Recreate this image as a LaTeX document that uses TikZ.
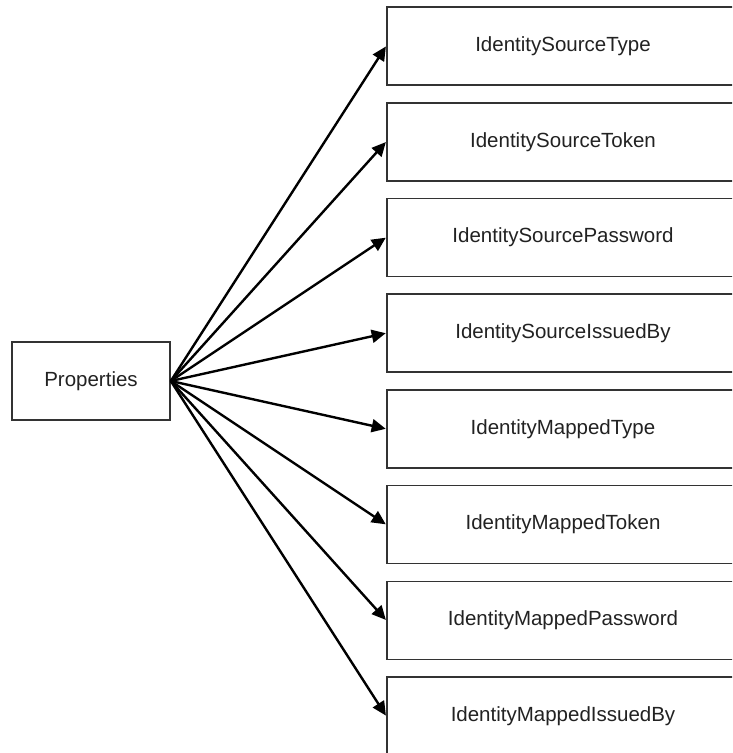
\documentclass[tikz,border=0pt]{standalone}
\usepackage{fontspec}
\setmainfont{Liberation Sans}
\usetikzlibrary{arrows.meta}
\definecolor{ink}{HTML}{222222}
\definecolor{edge}{HTML}{333333}
\tikzset{
  blk/.style={draw=edge, fill=white, line width=1.6pt, align=center, text=ink,
              font=\fontsize{20.5}{24}\selectfont, minimum height=78pt, minimum width=352pt, inner sep=0pt},
  src/.style={blk, minimum width=158pt},
  arr/.style={-{Triangle[length=14pt, width=13pt]}, line width=2.4pt, draw=black, shorten >=0.5pt},
}
\begin{document}
\begin{tikzpicture}[x=1pt, y=-1pt]
    \useasboundingbox (0,0) rectangle (732,753);
    \clip (0,0) rectangle (732,753);
    % source
    \node[src] (prop) at (91, 381) {Properties};
    % identity source
    \node[blk] (srctype) at (563, 46)    {IdentitySourceType};
    \node[blk] (srctok)  at (563, 141.7) {IdentitySourceToken};
    \node[blk] (srcpw)   at (563, 237.4) {IdentitySourcePassword};
    \node[blk] (srciss)  at (563, 333.1) {IdentitySourceIssuedBy};
    % identity mapped
    \node[blk] (maptype) at (563, 428.9) {IdentityMappedType};
    \node[blk] (maptok)  at (563, 524.6) {IdentityMappedToken};
    \node[blk] (mappw)   at (563, 620.3) {IdentityMappedPassword};
    \node[blk] (mapiss)  at (563, 716)   {IdentityMappedIssuedBy};

    \draw[arr] (prop.east) -- (srctype.west);
    \draw[arr] (prop.east) -- (srctok.west);
    \draw[arr] (prop.east) -- (srcpw.west);
    \draw[arr] (prop.east) -- (srciss.west);
    \draw[arr] (prop.east) -- (maptype.west);
    \draw[arr] (prop.east) -- (maptok.west);
    \draw[arr] (prop.east) -- (mappw.west);
    \draw[arr] (prop.east) -- (mapiss.west);
\end{tikzpicture}
\end{document}
